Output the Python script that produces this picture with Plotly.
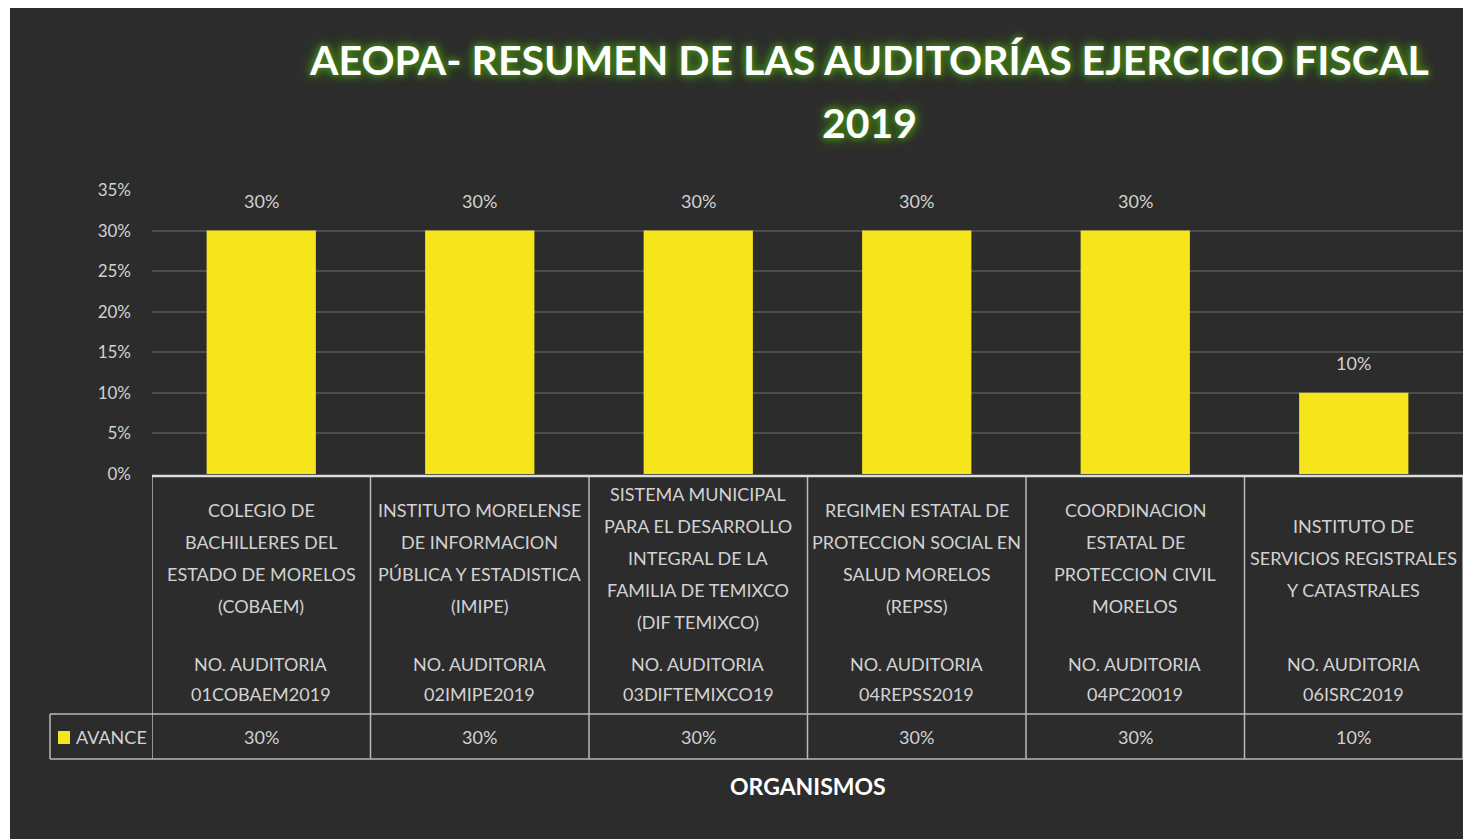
import plotly.graph_objects as go

# ---------------- data ----------------
categories = [
    "COLEGIO DE<br>BACHILLERES DEL<br>ESTADO DE MORELOS<br>(COBAEM)",
    "INSTITUTO MORELENSE<br>DE INFORMACION<br>PÚBLICA Y ESTADISTICA<br>(IMIPE)",
    "SISTEMA MUNICIPAL<br>PARA EL DESARROLLO<br>INTEGRAL DE LA<br>FAMILIA DE TEMIXCO<br>(DIF TEMIXCO)",
    "REGIMEN ESTATAL DE<br>PROTECCION SOCIAL EN<br>SALUD MORELOS<br>(REPSS)",
    "COORDINACION<br>ESTATAL DE<br>PROTECCION CIVIL<br>MORELOS",
    "INSTITUTO DE<br>SERVICIOS REGISTRALES<br>Y CATASTRALES",
]
audit_numbers = ["01COBAEM2019", "02IMIPE2019", "03DIFTEMIXCO19",
                 "04REPSS2019", "04PC20019", "06ISRC2019"]
avance = [30, 30, 30, 30, 30, 10]
series_name = "AVANCE"
title_line1 = "AEOPA- RESUMEN DE LAS AUDITORÍAS EJERCICIO FISCAL"
title_line2 = "2019"
x_title = "ORGANISMOS"
y_ticks = [0, 5, 10, 15, 20, 25, 30, 35]

# ---------------- style / layout ----------------
W, H = 1463, 839
M_L, M_R, M_T, M_B = 152, 0, 190, 365
PLOT_W = W - M_L - M_R
PLOT_H = H - M_T - M_B
BG = "#2d2c2d"
BAR = "#f7e51c"
TXT = "#d2d2d2"
LINE = "#b9b9b9"
FONT = "Lato, Carlito, sans-serif"
FS = 18


def py(Y):  # pixel row -> paper y
    return (H - M_B - Y) / PLOT_H


def px(X):  # pixel column -> paper x
    return (X - M_L) / PLOT_W


xs = list(range(len(categories)))

fig = go.Figure()
fig.add_trace(go.Bar(
    x=xs, y=avance, name=series_name, marker=dict(color=BAR, line=dict(width=0)),
    showlegend=False, hoverinfo="x+y",
))

shapes = []
annotations = []

# data labels above bars
for i, v in enumerate(avance):
    annotations.append(dict(xref="x", yref="y", x=i, y=v, yshift=30, text=f"{v}%",
                            showarrow=False, xanchor="center", yanchor="middle",
                            font=dict(family=FONT, size=FS, color=TXT)))

# white scan margins
shapes.append(dict(type="rect", xref="paper", yref="paper", x0=px(-5), x1=px(10),
                   y0=py(-5), y1=py(H + 5), fillcolor="white", line=dict(width=0), layer="above"))
shapes.append(dict(type="rect", xref="paper", yref="paper", x0=px(-5), x1=px(W + 5),
                   y0=py(-5), y1=py(8), fillcolor="white", line=dict(width=0), layer="above"))

# data table grid
for b in range(len(categories) + 1):
    shapes.append(dict(type="line", xref="x", yref="paper", x0=b - 0.5, x1=b - 0.5,
                       y0=py(476), y1=py(759), line=dict(color=LINE, width=1.5)))
for Y in (714, 759):
    shapes.append(dict(type="line", xref="paper", yref="paper", x0=px(50), x1=1,
                       y0=py(Y), y1=py(Y), line=dict(color=LINE, width=1.5)))
shapes.append(dict(type="line", xref="paper", yref="paper", x0=px(50), x1=px(50),
                   y0=py(714), y1=py(759), line=dict(color=LINE, width=1.5)))
shapes.append(dict(type="line", xref="paper", yref="paper", x0=0, x1=1,
                   y0=py(476), y1=py(476), line=dict(color="#dcdcdc", width=2.5)))

# legend key in table
shapes.append(dict(type="rect", xref="paper", yref="paper", x0=px(58), x1=px(70),
                   y0=py(744), y1=py(731), fillcolor=BAR, line=dict(width=0)))
annotations.append(dict(xref="paper", yref="paper", x=px(74), y=py(737), text=series_name,
                        showarrow=False, xanchor="left", yanchor="middle",
                        font=dict(family=FONT, size=FS, color=TXT)))

# table texts
for i, (cat, num, v) in enumerate(zip(categories, audit_numbers, avance)):
    lines = cat.split("<br>")
    n = len(lines)
    for k, ln in enumerate(lines):
        Y = 558 - 16 * (n - 1) + 32 * k
        annotations.append(dict(xref="x", yref="paper", x=i, y=py(Y), text=ln, showarrow=False,
                                xanchor="center", yanchor="middle",
                                font=dict(family=FONT, size=FS, color=TXT)))
    annotations.append(dict(xref="x", yref="paper", x=i, y=py(664), text="NO. AUDITORIA",
                            showarrow=False, xanchor="center", yanchor="middle",
                            font=dict(family=FONT, size=FS, color=TXT)))
    annotations.append(dict(xref="x", yref="paper", x=i, y=py(694), text=num,
                            showarrow=False, xanchor="center", yanchor="middle",
                            font=dict(family=FONT, size=FS, color=TXT)))
    annotations.append(dict(xref="x", yref="paper", x=i, y=py(737), text=f"{v}%",
                            showarrow=False, xanchor="center", yanchor="middle",
                            font=dict(family=FONT, size=FS, color=TXT)))

# title with green glow
glow = "0px 0px 10px #3f7d16, 0px 0px 16px #3f7d16, 0px 0px 6px #52961f"
for txt, Y in ((title_line1, 60), (title_line2, 122)):
    annotations.append(dict(xref="paper", yref="paper", x=px(869), y=py(Y), text=f"<b>{txt}</b>",
                            showarrow=False, xanchor="center", yanchor="middle",
                            font=dict(family=FONT, size=41, color="white", shadow=glow)))

# x axis title
annotations.append(dict(xref="paper", yref="paper", x=px(808), y=py(786), text=f"<b>{x_title}</b>",
                        showarrow=False, xanchor="center", yanchor="middle",
                        font=dict(family=FONT, size=23, color="white")))

fig.update_layout(
    width=W, height=H,
    margin=dict(l=M_L, r=M_R, t=M_T, b=M_B, pad=0),
    paper_bgcolor=BG, plot_bgcolor="rgba(0,0,0,0)",
    bargap=0.5,
    shapes=shapes, annotations=annotations,
    xaxis=dict(range=[-0.5, len(categories) - 0.5], showticklabels=False, showgrid=False,
               zeroline=False, showline=False, fixedrange=True),
    yaxis=dict(range=[0, 35], tickvals=y_ticks, ticktext=[f"{t}%" for t in y_ticks],
               showgrid=True, gridcolor="#4d4c4d", gridwidth=1.5, zeroline=False,
               tickfont=dict(family=FONT, size=17, color=TXT), ticks="", ticklen=0,
               ticklabelstandoff=20, showline=False, fixedrange=True),
    font=dict(family=FONT, color=TXT),
)

fig.write_html("out.html", config={"displayModeBar": False},
               post_script="document.body.style.margin='0';document.body.style.overflow='hidden';")
